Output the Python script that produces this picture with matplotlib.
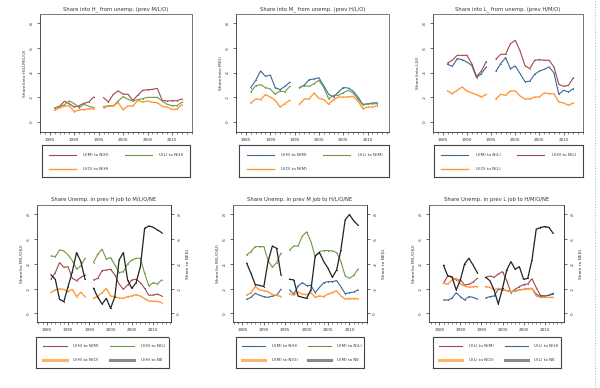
import numpy as np
import matplotlib
matplotlib.use("Agg")
import matplotlib.pyplot as plt
from matplotlib.lines import Line2D

nan = np.nan
years = list(range(1986, 2013))  # 1995 missing (nan)

# ---- Top row: share into occupation from unemployment ----
tl_m = [.113, .127, .167, .148, .121, .132, .151, .162, .202, nan,
        .197, .162, .224, .251, .226, .224, .175, .216, .256, .261, .264, .272, .175, .170, .172, .172, .186]
tl_l = [.113, .121, .140, .170, .148, .116, .143, .127, .116, nan,
        .124, .132, .132, .170, .205, .183, .170, .181, .189, .199, .199, .199, .170, .143, .132, .132, .159]
tl_o = [.094, .116, .127, .132, .084, .097, .100, .108, .105, nan,
        .116, .127, .129, .156, .100, .129, .129, .175, .162, .170, .159, .156, .127, .121, .102, .102, .140]

tm_h = [.278, .337, .412, .369, .380, .278, .261, .288, .321, nan,
        .278, .299, .342, .348, .358, .291, .224, .202, .243, .278, .275, .251, .202, .143, .146, .154, .154]
tm_l = [.243, .294, .302, .278, .267, .224, .251, .243, .288, nan,
        .278, .294, .288, .310, .337, .278, .186, .216, .216, .237, .256, .235, .186, .137, .146, .148, .148]
tm_o = [.154, .186, .181, .221, .202, .175, .121, .148, .175, nan,
        .143, .186, .186, .235, .191, .181, .143, .181, .202, .202, .202, .208, .170, .108, .121, .121, .132]

tr_m = [.466, .450, .512, .504, .485, .458, .358, .391, .445, nan,
        .410, .472, .520, .431, .453, .391, .326, .329, .385, .412, .426, .445, .396, .224, .256, .243, .270]
tr_h = [.477, .499, .539, .539, .539, .472, .369, .412, .488, nan,
        .509, .547, .547, .633, .660, .574, .456, .431, .499, .504, .499, .499, .445, .305, .288, .296, .358]
tr_o = [.251, .229, .256, .283, .251, .235, .221, .202, .224, nan,
        .186, .224, .216, .251, .251, .210, .186, .186, .202, .202, .235, .229, .229, .162, .154, .135, .154]

# ---- Bottom row: share of unemployed by previous job ----
bl_m = [.275, .329, .410, .372, .377, .283, .264, .291, .310, nan,
        .270, .283, .345, .350, .356, .310, .237, .194, .229, .270, .275, .248, .202, .146, .148, .156, .140]
bl_l = [.464, .458, .512, .504, .472, .426, .358, .383, .445, nan,
        .410, .480, .518, .437, .450, .391, .329, .337, .399, .431, .445, .445, .323, .221, .248, .237, .270]
bl_o = [.170, .189, .197, .194, .175, .194, .135, .170, .135, nan,
        .121, .140, .167, .202, .140, .135, .124, .121, .135, .140, .151, .140, .119, .100, .097, .097, .086]
bl_ne = [.310, .275, .113, .094, .216, .337, .491, .418, .275, nan,
         .202, .129, .075, .121, .040, .135, .431, .491, .270, .202, .248, .377, .687, .706, .695, .674, .652]

bm_h = [.113, .129, .162, .146, .135, .129, .140, .146, .194, nan,
        .189, .156, .221, .248, .224, .226, .167, .210, .248, .256, .256, .264, .216, .159, .167, .172, .189]
bm_l = [.472, .499, .539, .539, .539, .426, .372, .410, .485, nan,
        .512, .544, .544, .625, .658, .580, .458, .499, .507, .507, .504, .491, .418, .302, .283, .307, .358]
bm_o = [.148, .167, .216, .189, .183, .175, .151, .146, .135, nan,
        .156, .146, .172, .156, .151, .167, .129, .140, .135, .156, .167, .183, .140, .116, .119, .119, .119]
bm_ne = [.404, .323, .232, .226, .216, .420, .544, .525, .310, nan,
         .275, .270, .140, .129, .121, .189, .464, .491, .418, .364, .291, .350, .512, .755, .798, .747, .712]

br_m = [.243, .302, .291, .270, .270, .229, .235, .251, .283, nan,
        .291, .302, .291, .318, .337, .264, .167, .194, .216, .232, .237, .280, .208, .146, .140, .146, .154]
br_h = [.108, .108, .121, .167, .135, .108, .135, .129, .116, nan,
        .124, .135, .140, .194, .189, .183, .175, .178, .189, .194, .199, .199, .156, .135, .140, .146, .162]
br_o = [.243, .235, .270, .283, .237, .221, .210, .216, .216, nan,
        .216, .210, .189, .202, .194, .183, .175, .183, .189, .194, .199, .202, .140, .129, .129, .129, .129]
br_ne = [.388, .302, .296, .189, .270, .399, .445, .391, .329, nan,
         .291, .264, .189, .075, .202, .350, .418, .356, .377, .275, .283, .431, .679, .693, .701, .695, .647]

yticks = [0, .2, .4, .6, .8]
ytick_labels = ["0", ".2", ".4", ".6", ".8"]
xticks = [1985, 1990, 1995, 2000, 2005, 2010]

RED = "#a04a4e"
GREEN = "#6f9a45"
ORANGE = "#ff9a3c"
BLUE = "#3d6898"
BLACK = "#222222"
GRAY = "#8a8a8a"

fig = plt.figure(figsize=(6.0, 3.88), dpi=100)
W, H = 600.0, 388.0


def fax(x0, x1, y0, y1):
    return fig.add_axes([x0 / W, 1 - y1 / H, (x1 - x0) / W, (y1 - y0) / H])


def style_axes(ax, xlim, ylim, title, ylabel):
    ax.set_xlim(*xlim)
    ax.set_ylim(*ylim)
    ax.set_xticks(xticks)
    ax.set_xticklabels([str(v) for v in xticks])
    ax.set_xticks(range(1983, 2015), minor=True)
    ax.set_yticks(yticks)
    ax.set_yticklabels(ytick_labels, rotation=90, va="center")
    ax.tick_params(axis="both", which="major", length=2.5, width=0.5, labelsize=3.0, pad=2, colors="#333333")
    ax.tick_params(axis="x", which="minor", length=1.5, width=0.4, colors="#333333")
    for s in ["left", "bottom"]:
        ax.spines[s].set_linewidth(0.6)
        ax.spines[s].set_color("#333333")
    for s in ["top", "right"]:
        ax.spines[s].set_linewidth(0.7)
        ax.spines[s].set_linestyle((0, (1, 1)))
        ax.spines[s].set_color("#777777")
    ax.set_title(title, fontsize=3.8, pad=3, color="#333344")
    ax.set_ylabel(ylabel, fontsize=3.2, labelpad=2, color="#333333")


def plot_series(ax, vals, color, lw=0.8):
    ax.plot(years, vals, color=color, lw=lw, marker=".", ms=1.6, mew=0)


def legend_box(x0, x1, y0, y1, entries):
    lax = fax(x0, x1, y0, y1)
    lax.set_xlim(0, 1)
    lax.set_ylim(0, 1)
    lax.set_xticks([])
    lax.set_yticks([])
    for s in lax.spines.values():
        s.set_linestyle((0, (1, 1)))
        s.set_linewidth(0.8)
        s.set_color("#444444")
    cols = [(0.05, 0.23, 0.28), (0.56, 0.74, 0.79)]
    rows = [0.70, 0.26]
    for i, (label, color, lw) in enumerate(entries):
        r, c = divmod(i, 2)
        lx0, lx1, tx = cols[c]
        ly = rows[r]
        lax.add_line(Line2D([lx0, lx1], [ly, ly], color=color, lw=lw))
        lax.plot([(lx0 + lx1) / 2], [ly], marker=".", ms=1.8, color=color, mew=0)
        lax.text(tx, ly, label, fontsize=3.0, va="center", ha="left", color="#333333")


# ---------------- Top-left ----------------
ax = fax(40, 192, 14, 132)
plot_series(ax, tl_m, RED)
plot_series(ax, tl_l, GREEN)
plot_series(ax, tl_o, ORANGE, 1.0)
style_axes(ax, (1983.1, 2014.1), (-0.081, 0.873),
           "Share into H_ from unemp. (prev M/L/O)", "Share(into H|U,M/L/O)")
legend_box(42, 190, 145, 177, [("U(M) to N(H)", RED, 0.8), ("U(L) to N(H)", GREEN, 0.8),
                               ("U(O) to N(H)", ORANGE, 1.0)])

# ---------------- Top-middle ----------------
ax = fax(236, 389, 14, 132)
plot_series(ax, tm_h, BLUE)
plot_series(ax, tm_l, GREEN)
plot_series(ax, tm_o, ORANGE, 1.0)
style_axes(ax, (1982.95, 2014.4), (-0.081, 0.873),
           "Share into M_ from unemp. (prev H/L/O)", "Share(into M|U)")
legend_box(239, 389, 145, 177, [("U(H) to N(M)", BLUE, 0.8), ("U(L) to N(M)", GREEN, 0.8),
                                ("U(O) to N(M)", ORANGE, 1.0)])

# ---------------- Top-right ----------------
ax = fax(433, 583, 14, 132)
plot_series(ax, tr_m, BLUE)
plot_series(ax, tr_h, RED)
plot_series(ax, tr_o, ORANGE, 1.0)
style_axes(ax, (1983.6, 2014.0), (-0.081, 0.873),
           "Share into L_ from unemp. (prev H/M/O)", "Share(into L|U)")
legend_box(434, 583, 145, 177, [("U(M) to N(L)", BLUE, 0.8), ("U(H) to N(L)", RED, 0.8),
                                ("U(O) to N(L)", ORANGE, 1.0)])


def bottom_panel(x0, x1, xlim, title, s1, c1, s2, c2, so, sne, labels, lx0, lx1):
    ax = fax(x0, x1, 205, 322)
    plot_series(ax, s1, c1)
    plot_series(ax, s2, c2)
    plot_series(ax, so, ORANGE, 1.0)
    style_axes(ax, xlim, (-0.070, 0.875), title, "Share(to M/L/O|U)")
    ax2 = ax.twinx()
    ax2.plot(years, sne, color=BLACK, lw=0.9, marker=".", ms=1.6, mew=0)
    ax2.set_ylim(-0.070, 0.875)
    ax2.set_yticks(yticks)
    ax2.set_yticklabels(ytick_labels, rotation=90, va="center")
    ax2.tick_params(axis="y", length=2.5, width=0.5, labelsize=3.0, pad=2, colors="#333333")
    ax2.spines["right"].set_linestyle("-")
    ax2.spines["right"].set_linewidth(0.6)
    ax2.spines["right"].set_color("#333333")
    for s in ["top", "left", "bottom"]:
        ax2.spines[s].set_visible(False)
    ax2.set_ylabel("Share to NE|U", fontsize=3.2, labelpad=3, color="#333333", rotation=90)
    legend_box(lx0, lx1, 337, 368, [(labels[0], c1, 0.8), (labels[1], c2, 0.8),
                                    (labels[2], "#ffb366", 2.2), (labels[3], GRAY, 2.2)])


bottom_panel(37, 171, (1982.7, 2014.2), "Share Unemp. in prev H job to M/L/O/NE",
             bl_m, RED, bl_l, GREEN, bl_o, bl_ne,
             ["U(H) to N(M)", "U(H) to N(L)", "U(H) to N(O)", "U(H) to NE"], 36, 169)
bottom_panel(233, 367, (1982.8, 2014.1), "Share Unemp. in prev M job to H/L/O/NE",
             bm_h, BLUE, bm_l, GREEN, bm_o, bm_ne,
             ["U(M) to N(H)", "U(M) to N(L)", "U(M) to N(O)", "U(M) to NE"], 236, 364)
bottom_panel(429, 564, (1982.55, 2014.6), "Share Unemp. in prev L job to H/M/O/NE",
             br_m, RED, br_h, BLUE, br_o, br_ne,
             ["U(L) to N(M)", "U(L) to N(H)", "U(L) to N(O)", "U(L) to NE"], 433, 561)

# page border dotted line at right
fig.add_artist(Line2D([595 / W, 595 / W], [0, 1], color="#a9c4e0", lw=0.8,
                      linestyle=(0, (1, 1.5)), transform=fig.transFigure))

fig.savefig("out.png", dpi=100, facecolor="white")
